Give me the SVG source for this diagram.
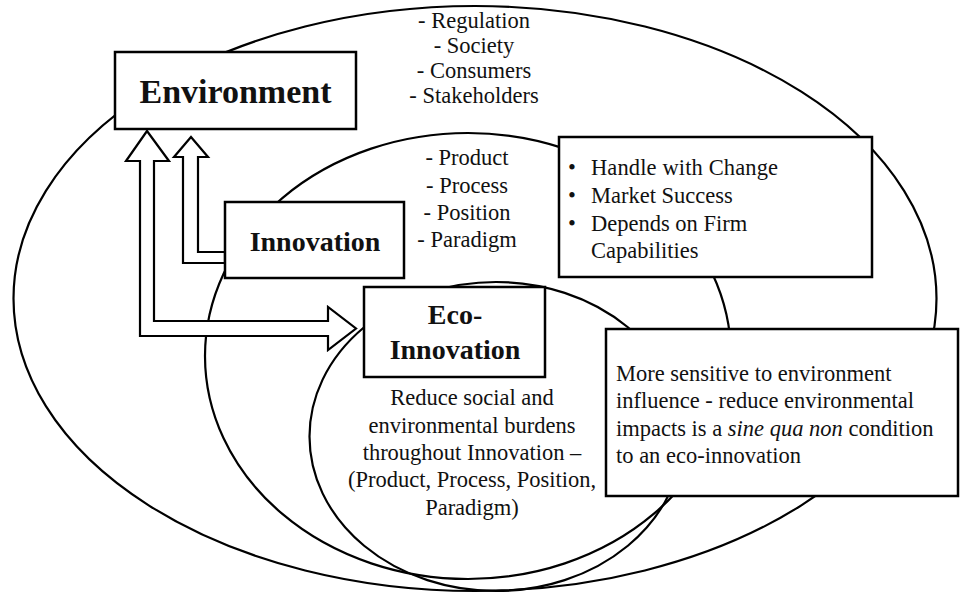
<svg xmlns="http://www.w3.org/2000/svg" width="961" height="594" viewBox="0 0 961 594">
<style>
.ell{fill:none;stroke:#000;stroke-width:2.2}
.box{fill:#fff;stroke:#000;stroke-width:2.5}
.arr{fill:#fff;stroke:#000;stroke-width:2.2}
</style>
<rect width="961" height="594" fill="#fff"/>
<g id="ellipses">
<ellipse class="ell" cx="475" cy="298.5" rx="461.5" ry="292.5"/>
<ellipse class="ell" cx="468" cy="356" rx="263" ry="223"/>
<ellipse class="ell" cx="496" cy="436.5" rx="186.5" ry="154.5"/>
</g>
<g id="connectors">
<polygon class="arr" points="147,131 169,161 154,161 154,321 328,321 328,307 356,328.5 328,350 328,336 140,336 140,161 126,161"/>
<polygon class="arr" points="191,137 208,157 198,157 198,252 225,252 225,263 183,263 183,157 174,157"/>
</g>
<g id="environment" fill="#111" font-family="Liberation Serif, serif" font-weight="bold" font-size="34" text-anchor="middle">
<rect class="box" x="115" y="52" width="241" height="77"/>
<text x="235.5" y="103">Environment</text>
</g>
<g id="environment-list" fill="#111" font-family="Liberation Serif, serif" font-size="22.5" text-anchor="middle">
<text x="474" y="28">- Regulation</text>
<text x="474" y="53">- Society</text>
<text x="474" y="78">- Consumers</text>
<text x="474" y="103">- Stakeholders</text>
</g>
<g id="innovation" fill="#111" font-family="Liberation Serif, serif" font-weight="bold" font-size="28" text-anchor="middle">
<rect class="box" x="225" y="202" width="179" height="76"/>
<text x="315" y="251">Innovation</text>
</g>
<g id="innovation-list" fill="#111" font-family="Liberation Serif, serif" font-size="22.5" text-anchor="middle">
<text x="467" y="165">- Product</text>
<text x="467" y="193">- Process</text>
<text x="467" y="220">- Position</text>
<text x="467" y="247">- Paradigm</text>
</g>
<g id="innovation-note" fill="#111" font-family="Liberation Serif, serif" font-size="22.5">
<rect class="box" x="559" y="137" width="313" height="140"/>
<text x="568" y="175">•</text>
<text x="591" y="175" textLength="187">Handle with Change</text>
<text x="568" y="203">•</text>
<text x="591" y="203">Market Success</text>
<text x="568" y="231">•</text>
<text x="591" y="231">Depends on Firm</text>
<text x="591" y="258">Capabilities</text>
</g>
<g id="eco-innovation" fill="#111" font-family="Liberation Serif, serif" font-weight="bold" font-size="28" text-anchor="middle">
<rect class="box" x="364" y="287" width="181" height="90"/>
<text x="455" y="324">Eco-</text>
<text x="455" y="359">Innovation</text>
</g>
<g id="eco-description" fill="#111" font-family="Liberation Serif, serif" font-size="22.5" text-anchor="middle">
<text x="472" y="405">Reduce social and</text>
<text x="472" y="433">environmental burdens</text>
<text x="472" y="460">throughout Innovation –</text>
<text x="472" y="487">(Product, Process, Position,</text>
<text x="472" y="515">Paradigm)</text>
</g>
<g id="eco-note" fill="#111" font-family="Liberation Serif, serif" font-size="22.5">
<rect class="box" x="606" y="329" width="352" height="167"/>
<text x="616" y="381">More sensitive to environment</text>
<text x="616" y="408">influence - reduce environmental</text>
<text x="616" y="436">impacts is a <tspan font-style="italic">sine qua non</tspan> condition</text>
<text x="616" y="463">to an eco-innovation</text>
</g>
</svg>
